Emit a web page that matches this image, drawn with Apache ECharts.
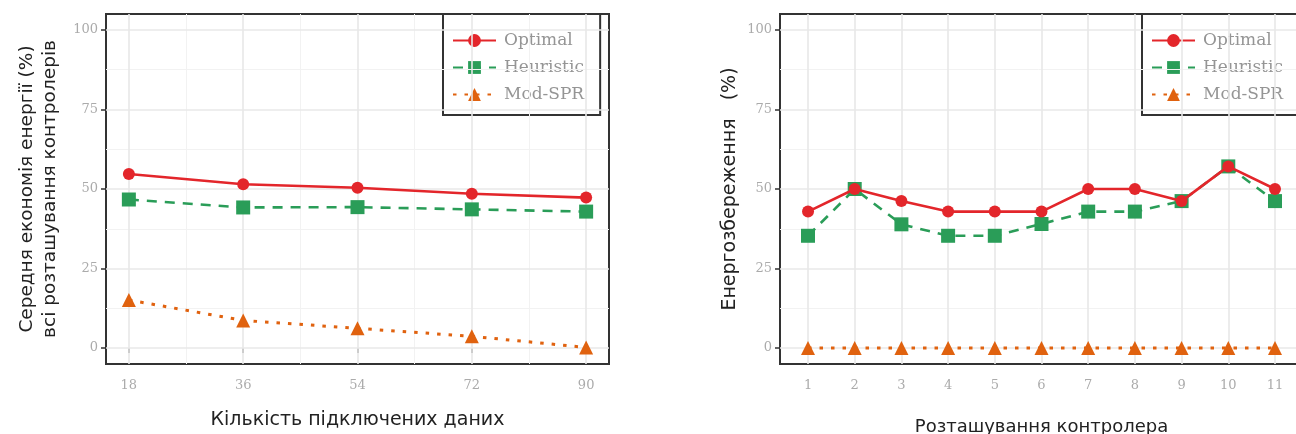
<!DOCTYPE html>
<html>
<head>
<meta charset="utf-8">
<script src="https://cdn.jsdelivr.net/npm/echarts@6/dist/echarts.min.js"></script>
<style>
  html, body { margin: 0; padding: 0; background: #ffffff; }
  #chart { width: 1296px; height: 434px; }
</style>
</head>
<body>
<div id="chart"></div>
<script>
// Method names shared by both panels
const seriesNames = ['Optimal', 'Heuristic', 'Mod-SPR'];

// Left panel: average saving vs. number of connected data items
const dataCounts = [18, 36, 54, 72, 90];
const avgOptimal = [54.7, 51.5, 50.4, 48.5, 47.3];
const avgHeuristic = [46.7, 44.2, 44.3, 43.6, 42.9];
const avgModSpr = [15.1, 8.7, 6.2, 3.7, 0.2];
const xMinorLeft = [27, 45, 63, 81];

// Right panel: saving per controller placement
const placements = ['1', '2', '3', '4', '5', '6', '7', '8', '9', '10', '11'];
const savOptimal = [42.9, 50, 46.2, 42.9, 42.9, 42.9, 50, 50, 46.2, 57.1, 50];
const savHeuristic = [35.3, 50, 38.9, 35.3, 35.3, 39.0, 42.9, 42.9, 46.2, 57.1, 46.2];
const savModSpr = [0, 0, 0, 0, 0, 0, 0, 0, 0, 0, 0];

// Shared y ticks
const yTicks = [0, 25, 50, 75, 100];
const yMinor = [12.5, 37.5, 62.5, 87.5];

const COLORS = ['#e3262b', '#2a9d58', '#e0620f'];
const SERIF = "'DejaVu Serif', 'Liberation Serif', serif";
const SANS = "'DejaVu Sans', Verdana, sans-serif";

const placementIdx = placements.map((p, i) => i + 1);

function gridLines(xIndex, xMajor, xMinor) {
  const major = { color: '#e8e8e8', width: 1.6, type: 'solid' };
  const minor = { color: '#f2f2f2', width: 1, type: 'solid' };
  const data = [];
  yMinor.forEach(v => data.push({ yAxis: v, lineStyle: minor }));
  xMinor.forEach(v => data.push({ xAxis: v, lineStyle: minor }));
  yTicks.forEach(v => data.push({ yAxis: v, lineStyle: major }));
  xMajor.forEach(v => data.push({ xAxis: v, lineStyle: major }));
  return {
    type: 'line', xAxisIndex: xIndex, yAxisIndex: xIndex, data: [], silent: true, z: 1,
    markLine: { silent: true, symbol: ['none', 'none'], label: { show: false }, animation: false, data: data }
  };
}

function methodSeries(idx, axisIndex, xs, ys) {
  const base = {
    name: seriesNames[idx], type: 'line', xAxisIndex: axisIndex, yAxisIndex: axisIndex,
    data: xs.map((x, i) => [x, ys[i]]), z: 8 - idx,
    itemStyle: { color: COLORS[idx] }, animation: false
  };
  if (idx === 0) {
    base.symbol = 'circle'; base.symbolSize = 12;
    base.lineStyle = { color: COLORS[0], width: 2.6, type: 'solid' };
  } else if (idx === 1) {
    base.symbol = 'rect'; base.symbolSize = 14;
    base.lineStyle = { color: COLORS[1], width: 2.6, type: [10, 8] };
  } else {
    base.symbol = 'triangle'; base.symbolSize = 14;
    base.lineStyle = { color: COLORS[2], width: 3, type: [3.5, 8] };
  }
  return base;
}

function legendBox(left) {
  return {
    data: seriesNames, orient: 'vertical', left: left, top: 14,
    itemWidth: 43, itemHeight: 16, itemGap: 10,
    padding: [18, 16, 12, 9],
    backgroundColor: '#ffffff', borderColor: '#333333', borderWidth: 2,
    textStyle: { fontFamily: SERIF, fontSize: 17, color: '#959595', padding: [0, 0, 0, 3] },
    selectedMode: false
  };
}

const axisLabelStyle = { color: '#ababab', fontFamily: SERIF, fontSize: 13 };
const tickStyle = { show: true, length: 5, lineStyle: { color: '#333333', width: 1.5 } };

function yAxisDef(gridIndex, name, gap, size) {
  return {
    type: 'value', gridIndex: gridIndex, min: -5, max: 105,
    name: name, nameLocation: 'middle', nameGap: gap, nameRotate: 90,
    nameTextStyle: { fontFamily: SANS, fontSize: size, color: '#222222', lineHeight: 23 },
    axisLine: { show: false },
    axisTick: Object.assign({ customValues: yTicks }, tickStyle),
    axisLabel: Object.assign({ customValues: yTicks, margin: 8 }, axisLabelStyle),
    splitLine: { show: false }
  };
}

const gridBase = { top: 14, height: 350, show: true, borderColor: '#333333', borderWidth: 2,
  backgroundColor: '#ffffff', containLabel: false, outerBoundsMode: 'none' };

const option = {
  backgroundColor: '#ffffff',
  animation: false,
  grid: [
    Object.assign({ left: 106, width: 503 }, gridBase),
    Object.assign({ left: 780, width: 523 }, gridBase)
  ],
  legend: [legendBox(443), legendBox(1142)],
  xAxis: [
    {
      type: 'value', gridIndex: 0, min: 14.4, max: 93.6,
      name: 'Кількість підключених даних', nameLocation: 'middle', nameGap: 47,
      nameTextStyle: { fontFamily: SANS, fontSize: 19, color: '#222222' },
      axisLine: { show: false },
      axisTick: Object.assign({ customValues: dataCounts }, tickStyle),
      axisLabel: Object.assign({ customValues: dataCounts, margin: 15 }, axisLabelStyle),
      splitLine: { show: false }
    },
    {
      type: 'value', gridIndex: 1, min: 0.4, max: 11.6,
      name: 'Розташування контролера', nameLocation: 'middle', nameGap: 54,
      nameTextStyle: { fontFamily: SANS, fontSize: 18, color: '#222222' },
      axisLine: { show: false },
      axisTick: Object.assign({ customValues: placementIdx }, tickStyle),
      axisLabel: Object.assign({
        customValues: placementIdx, margin: 15,
        formatter: v => placements[Math.round(v) - 1]
      }, axisLabelStyle),
      splitLine: { show: false }
    }
  ],
  yAxis: [
    yAxisDef(0, 'Середня економія енергії (%)\nвсі розташування контролерів', 44, 18.5),
    yAxisDef(1, 'Енергозбереження   (%)', 38, 19)
  ],
  series: [
    gridLines(0, dataCounts, xMinorLeft),
    gridLines(1, placementIdx, []),
    methodSeries(2, 0, dataCounts, avgModSpr),
    methodSeries(1, 0, dataCounts, avgHeuristic),
    methodSeries(0, 0, dataCounts, avgOptimal),
    methodSeries(2, 1, placementIdx, savModSpr),
    methodSeries(1, 1, placementIdx, savHeuristic),
    methodSeries(0, 1, placementIdx, savOptimal)
  ]
};

const chart = echarts.init(document.getElementById('chart'), null, { renderer: 'canvas' });
chart.setOption(option);
</script>
</body>
</html>
